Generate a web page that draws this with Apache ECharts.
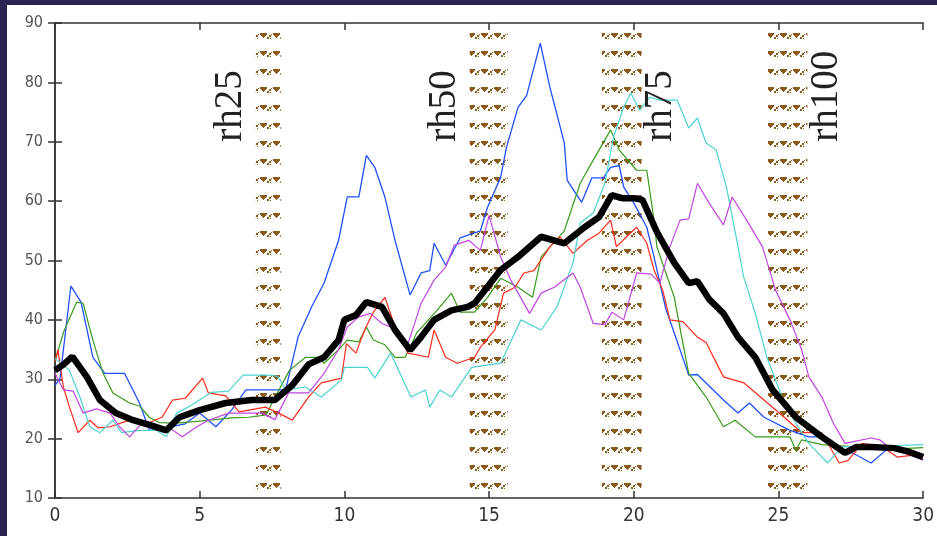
<!DOCTYPE html>
<html><head><meta charset="utf-8">
<script src="https://cdn.jsdelivr.net/npm/echarts@6/dist/echarts.min.js"></script>
<style>
html,body{margin:0;padding:0;background:#2b2452;width:937px;height:536px;overflow:hidden}
#c{position:absolute;left:7px;top:5px;width:930px;height:531px;background:#fff}
</style></head><body><div id="c"></div>
<script>
// ---- data ----
const blackX=[0,0.3,0.6,1.1,1.55,2.1,2.7,3.26,3.85,4.3,5,5.9,6.8,7.6,8.2,8.76,9.3,9.8,10,10.4,10.76,11.3,11.75,12.27,12.65,13.1,13.7,14.26,14.5,15.4,16,16.8,17.6,18.3,18.8,19.24,19.6,20,20.3,20.8,21.4,21.9,22.2,22.6,23.1,23.6,24.2,24.8,25.6,26.5,27.3,27.7,28.2,29,29.5,30];
const blackY=[31.5,32.5,33.8,30.4,26.5,24.3,23.1,22.3,21.4,23.6,24.8,26,26.5,26.5,29,32.5,33.7,36.6,40,40.8,43,42.2,38.3,34.9,37.1,40,41.6,42.2,42.8,48.4,50.6,54,52.9,55.6,57.3,61,60.5,60.5,60.2,54.8,49.6,46.2,46.5,43.5,41.1,37.1,33.7,28.2,23.6,20.3,17.6,18.6,18.6,18.4,17.8,16.9];

const blueX=[0,0.17,0.55,0.9,1.31,1.72,2.4,2.92,3.26,3.6,4,4.5,5,5.56,6.1,6.6,7.15,7.5,7.97,8.4,8.87,9.3,9.8,10.1,10.5,10.76,11.05,11.4,11.75,12.27,12.65,12.95,13.1,13.5,14,14.7,14.95,15.4,15.6,16,16.3,16.77,17.1,17.6,17.7,18.2,18.55,18.95,19.2,19.5,19.65,20,20.45,20.7,21.1,21.4,21.9,22.2,23.1,23.6,24,24.5,25.4,26.05,26.5,27.2,27.6,28.2,28.8,29.4,30];
const blueY=[29,30,45.7,43,33.7,31,31,26,21.4,21.5,22,22.5,24.3,22,24.8,28.2,28.2,28.2,28.2,37.1,42.2,46.2,53.4,60.7,60.7,67.7,65.7,60.7,53.4,44.2,47.9,48.3,52.9,49.2,53.8,55,59,64,69,75.8,77.8,86.6,79.2,69.8,63.5,59.8,63.9,63.9,65.7,66,62.4,59.7,55.6,50.6,42,37.8,30.7,30.8,26.5,24.3,26,23.6,21.4,20.3,20.3,18,17.5,15.9,18.4,17.5,16.4];

const greenX=[0,0.3,0.75,0.97,1.31,1.66,2,2.58,2.92,3.26,3.6,4.2,5.1,6.1,6.7,7.3,7.5,8.1,8.66,9.1,9.3,9.8,10.1,10.5,10.76,11,11.4,11.75,12.1,12.5,13.2,13.7,14,14.5,14.95,15.4,16,16.5,16.8,17.6,18.15,18.6,19.2,19.5,20.1,20.45,20.7,20.8,21.4,21.7,21.9,22.5,23.1,23.5,24.2,25.4,25.6,25.8,26.5,27.7,28.5,29.3,30];
const greenY=[33,38,43,42.8,36.6,31,27.7,26,25.5,23.6,22.7,22.6,23,23.5,23.6,24,26,31.5,33.7,33.7,32.7,35,36.6,36.3,38.8,36.6,35.8,33.7,33.7,37.8,41.6,44.5,41.3,41.3,43.8,47,45.5,43.8,50.6,55,63,66.9,72,68.6,65.2,65.2,56.8,52.3,43.8,36,31,27,22,23.1,20.3,20.3,18,19.8,19,18.6,18.5,18.3,18.5];

const redX=[0,0.1,0.29,0.5,0.8,1.2,1.5,1.9,2.5,3.2,3.7,4.06,4.5,5.1,5.3,5.9,6.36,7.27,7.85,8.2,8.76,9.2,9.9,10.07,10.4,10.7,11,11.4,11.75,12.2,12.9,13.1,13.5,13.9,14.5,14.7,15.2,15.5,15.9,16.2,16.55,17.1,17.45,17.9,18.4,18.8,19.2,19.4,19.75,20.1,20.45,20.7,21,21.25,21.7,22.2,22.5,23.1,23.8,24.5,25.2,25.8,26.5,27.1,27.4,27.9,28.6,29.1,29.8,30];
const redY=[33,35,28.7,25.3,21,23.1,21.8,22,23,22.6,23.6,26.5,26.8,30.2,27.7,27.2,24.5,25.3,24,23.1,27,29.4,30.2,36,34.4,38.3,41.3,43.8,38.8,34.4,33.7,38.3,33.7,32.7,33.7,35.4,38.3,44.5,45.5,47.9,48.3,52.3,54,51.2,53.4,54.6,56.8,52.3,54,55.6,52.9,48.4,45,40,39.7,37.1,36.2,30.4,29.4,26.5,23.6,21,21,15.9,16.3,19.2,18.6,16.9,17.3,16.5];

const cyanX=[0,0.5,0.86,1.2,1.55,2,2.3,2.9,3.5,3.85,4.2,4.6,5.4,6,6.5,7.4,7.7,7.97,8.66,9.2,9.9,10,10.8,11.05,11.6,12.3,12.8,12.95,13.3,13.7,14.4,15.4,16.1,16.8,17.35,17.9,18.15,18.6,19,19.3,19.65,19.9,20.2,20.55,20.9,21.5,21.9,22.2,22.5,22.85,23.2,23.5,23.8,24.2,24.6,25.2,25.6,26.05,26.7,27.2,28.8,30];
const cyanY=[33.5,31.5,27,22,21,23.1,21,21.4,21.4,20.3,24.3,25.3,27.8,28,30.7,30.7,30.5,28.2,28.7,27,29.9,32,32,30.2,34.4,27,28.2,25.3,28.2,27,32,32.7,40,38.3,42.2,49.6,56.3,58,63,70.8,75.8,78.2,75.3,77.5,77,77,72.3,74,69.8,68.6,62.4,55,47.2,41.1,33.7,26,22.6,19.2,15.9,18.6,18.8,19];

const magentaX=[0,0.29,0.63,0.97,1.43,1.9,2.23,2.58,3,3.5,3.9,4.4,4.9,5.3,6,7.15,7.6,8.07,8.76,9.3,9.8,10.1,10.5,10.9,11.3,11.6,12.2,12.5,12.65,13.1,13.5,13.8,14.3,14.7,15,15.4,15.75,16.4,16.8,17.25,17.9,18.15,18.6,19,19.25,19.65,20.1,20.6,20.9,21.25,21.6,21.9,22.2,22.6,23.1,23.4,23.9,24.45,24.9,25.4,25.8,26.05,26.5,26.9,27.3,28.2,28.5,28.8,29.7,30];
const magentaY=[31,28.2,28,24.3,25,24.3,22,20.3,22.6,21.4,22,20.3,22,23.1,24.3,24.3,23.2,27.7,27.7,31,35,38.8,40.5,41.1,39.4,38.8,36,40.5,42.8,46.7,48.9,52.6,53.4,51.7,57.6,50.6,46.7,41.1,44.5,45.5,47.9,45.5,39.4,39.2,41.3,40,47.9,47.7,46.2,52.3,56.8,57,63,59.7,56,60.7,56.8,52.3,45,40,35,30.4,27,22.6,19.2,20.1,19.8,18.6,17,16.4];

const bandStart=[6.94,14.33,18.9,24.64];
const bandEnd=[7.8,15.64,20.27,26.0];
const bandLabels=['rh25','rh50','rh75','rh100'];
const bandLabelSide=['left','left','right','right'];
const xTicks=[0,5,10,15,20,25,30];
const yTicks=[10,20,30,40,50,60,70,80,90];

// ---- helpers ----
function zip(xs,ys){return xs.map((x,i)=>[x,ys[i]]);}
function makePattern(){
  const c=document.createElement('canvas');c.width=13;c.height=18;
  const g=c.getContext('2d');g.fillStyle='#8b5a1b';
  const y0=10;
  // small slash with dot
  g.fillRect(0,y0+4,2,2);g.fillRect(2,y0+2,2,2);g.fillRect(4,y0+1,1,1);g.fillRect(3,y0+5,1,1);
  // inverted triangle
  g.fillRect(6,y0,7,2);g.fillRect(7,y0+2,5,1);g.fillRect(8,y0+3,3,1);g.fillRect(9,y0+4,1,1);
  return c;
}

const chart=echarts.init(document.getElementById('c'),null,{renderer:'canvas'});
const axisLine={show:true,lineStyle:{color:'#333',width:1.5}};
const tick={show:true,inside:true,length:7,lineStyle:{color:'#333',width:1.5}};
const fontY={fontFamily:'"Liberation Sans Narrow","DejaVu Sans Condensed","Liberation Sans",sans-serif',fontSize:16,color:'#555'};
const fontX={fontFamily:'"Liberation Sans Narrow","DejaVu Sans Condensed","Liberation Sans",sans-serif',fontSize:19,color:'#333'};

const lines=[
  ['blue',blueX,blueY,'#1f50ff',1.3],
  ['green',greenX,greenY,'#3a9a1c',1.2],
  ['red',redX,redY,'#ff2a1a',1.2],
  ['cyan',cyanX,cyanY,'#4dd2d2',1.2],
  ['magenta',magentaX,magentaY,'#c045e0',1.2],
];
const series=lines.map(l=>({type:'line',name:l[0],data:zip(l[1],l[2]),showSymbol:false,symbol:'none',
  lineStyle:{color:l[3],width:l[4]},z:2,animation:false}));
series.push({type:'line',name:'mean',data:zip(blackX,blackY),showSymbol:false,symbol:'none',
  lineStyle:{color:'#000',width:6.5,join:'bevel'},z:3,animation:false});
series.push({type:'line',name:'bands',data:[],z:5,animation:false,silent:true,
  markArea:{silent:true,itemStyle:{color:{image:makePattern(),repeat:'repeat'}},
    data:bandStart.map((s,i)=>[{xAxis:s,yAxis:11.2},{xAxis:bandEnd[i],yAxis:88.4}])}});

chart.setOption({
  animation:false,
  grid:{left:48,right:9,top:18,bottom:38},
  xAxis:[
    {type:'value',min:0,max:30,interval:5,position:'bottom',axisLine,axisTick:tick,
     axisLabel:{...fontX,margin:9},splitLine:{show:false}},
    {type:'value',min:0,max:30,interval:5,position:'top',axisLine,axisTick:tick,
     axisLabel:{show:false},splitLine:{show:false}}
  ],
  yAxis:[
    {type:'value',min:10,max:90,interval:10,position:'left',axisLine,axisTick:tick,
     axisLabel:{...fontY,margin:12},splitLine:{show:false}},
    {type:'value',min:10,max:90,interval:10,position:'right',axisLine,axisTick:tick,
     axisLabel:{show:false},splitLine:{show:false}}
  ],
  series
});

// band labels (rotated text next to each band)
const graphics=bandLabels.map((t,i)=>{
  const edge=bandLabelSide[i]==='left'?bandStart[i]:bandEnd[i];
  const p=chart.convertToPixel({xAxisIndex:0,yAxisIndex:0},[edge,70]);
  const cx=bandLabelSide[i]==='left'?p[0]-25:p[0]+19;
  return {type:'text',x:cx,y:p[1],rotation:Math.PI/2,z:10,
    style:{text:t,fill:'#222',font:'39px "Liberation Serif","DejaVu Serif",serif',
      textAlign:'left',textVerticalAlign:'middle'}};
});
chart.setOption({graphic:graphics});
</script></body></html>
